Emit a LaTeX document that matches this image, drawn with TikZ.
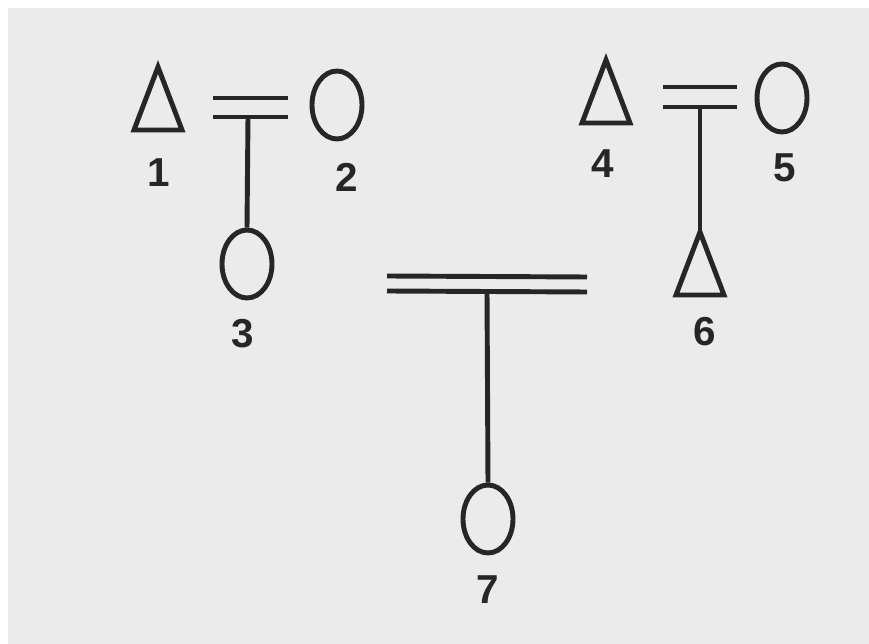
\documentclass[tikz,border=0pt]{standalone}
\usepackage{fontspec}
\setmainfont{Liberation Sans}
\usetikzlibrary{shapes.geometric,positioning}

\tikzset{
  kin/.style={line width=2.8pt, black!85},
  female/.style={ellipse, draw, kin, minimum width=1cm, minimum height=1.36cm, inner sep=0pt},
  num/.style={font=\fontsize{23}{27}\selectfont\bfseries, text=black!85, inner sep=0pt},
}
% male symbol: name, x, y of the apex
\newcommand{\malesym}[3]{%
  \draw[kin, line join=miter] (#2,#3) coordinate (#1) -- ++(-24,63) -- ++(48,0) -- cycle;
}

\begin{document}
\begin{tikzpicture}[x=0.02cm, y=-0.02cm]

% --- paper ---
\fill[white] (0,0) rectangle (869,644);
\fill[black!8] (8,8) rectangle (869,644);
\useasboundingbox (0,0) rectangle (869,644);

% --- first couple ---
\malesym{p1}{158}{67}
\node[female] (p2) at (337,105) {};
\node[female] (p3) at (247,264) {};

\coordinate (c12a) at (213,98);  \coordinate (c12b) at (288,98);
\coordinate (c12c) at (213,117); \coordinate (c12d) at (288,117);
\coordinate (c12) at (248,117);
\draw[kin] (c12a) -- (c12b);
\draw[kin] (c12c) -- (c12d);
\draw[kin] (c12) -- (p3.north);

% --- second couple ---
\malesym{p4}{606}{60}
\node[female] (p5) at (782,98) {};
\malesym{p6}{700}{232}

\coordinate (c45a) at (663,87);  \coordinate (c45b) at (737,87);
\coordinate (c45c) at (663,107); \coordinate (c45d) at (737,107);
\coordinate (c45) at (700,107);
\draw[kin] (c45a) -- (c45b);
\draw[kin] (c45c) -- (c45d);
\draw[kin] (c45) -- (p6);

% --- third couple ---
\node[female] (p7) at (488,519) {};

\coordinate (c36a) at (387,276); \coordinate (c36b) at (587,277);
\coordinate (c36c) at (387,291); \coordinate (c36d) at (587,292);
\coordinate (c36) at (487,291);
\draw[kin] (c36a) -- (c36b);
\draw[kin] (c36c) -- (c36d);
\draw[kin] (c36) -- (p7.north);

% --- numbers ---
\node[num] (n1) at (159,173) {1};
\node[num] (n2) at (347,177) {2};
\node[num] (n3) at (243,334) {3};
\node[num] (n4) at (603,164) {4};
\node[num] (n5) at (785,168) {5};
\node[num] (n6) at (705,332) {6};
\node[num] (n7) at (488,590) {7};

\end{tikzpicture}
\end{document}
